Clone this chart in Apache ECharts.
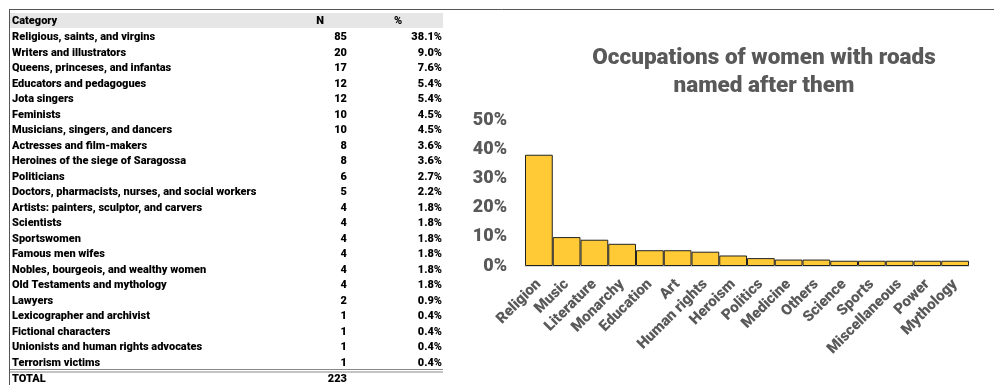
<!DOCTYPE html>
<html><head><meta charset="utf-8">
<script src="https://cdn.jsdelivr.net/npm/echarts@6/dist/echarts.min.js"></script>
<style>html,body{margin:0;padding:0;background:#fff}#c{width:994px;height:385px}</style>
</head><body><div id="c"></div>
<script>
var tableCategories = ["Religious, saints, and virgins","Writers and illustrators","Queens, princeses, and infantas","Educators and pedagogues","Jota singers","Feminists","Musicians, singers, and dancers","Actresses and film-makers","Heroines of the siege of Saragossa","Politicians","Doctors, pharmacists, nurses, and social workers","Artists: painters, sculptor, and carvers","Scientists","Sportswomen","Famous men wifes","Nobles, bourgeois, and wealthy women","Old Testaments and mythology","Lawyers","Lexicographer and archivist","Fictional characters","Unionists and human rights advocates","Terrorism victims"];
var tableN = [85,20,17,12,12,10,10,8,8,6,5,4,4,4,4,4,4,2,1,1,1,1];
var tablePct = ["38.1%","9.0%","7.6%","5.4%","5.4%","4.5%","4.5%","3.6%","3.6%","2.7%","2.2%","1.8%","1.8%","1.8%","1.8%","1.8%","1.8%","0.9%","0.4%","0.4%","0.4%","0.4%"];
var tableTotal = 223;

var chartCategories = ["Religion","Music","Literature","Monarchy","Education","Art","Human rights","Heroism","Politics","Medicine","Others","Science","Sports","Miscellaneous","Power","Mythology"];
var chartValues = [38.1,9.9,9.0,7.6,5.4,5.4,4.9,3.6,2.7,2.2,2.2,1.8,1.8,1.8,1.8,1.8];
var yTicks = [0,10,20,30,40,50];

var FONT = 'Roboto';
var graphics = [];
graphics.push({type:'line',shape:{x1:9,y1:9.5,x2:994,y2:9.5},style:{stroke:'#555',lineWidth:1}});
graphics.push({type:'line',shape:{x1:9.5,y1:9,x2:9.5,y2:385},style:{stroke:'#555',lineWidth:1}});
graphics.push({type:'rect',shape:{x:10,y:13,width:433,height:15},style:{fill:'#e6e6e6'}});
var hStyle = {fill:'#000',fontFamily:FONT,fontWeight:900,fontSize:11,verticalAlign:'middle'};
function txt(t,x,y,align){
  graphics.push({type:'text',x:x,y:y,style:Object.assign({},hStyle,{text:t,align:align})});
}
txt('Category',12,21,'left');
txt('N',320,21,'center');
txt('%',398,21,'center');
for (var i=0;i<tableCategories.length;i++){
  var y = 37.5 + i*15.5;
  txt(tableCategories[i],12,y,'left');
  txt(String(tableN[i]),347,y,'right');
  txt(tablePct[i],442,y,'right');
}
graphics.push({type:'line',shape:{x1:10,y1:369.5,x2:443,y2:369.5},style:{stroke:'#888',lineWidth:1}});
graphics.push({type:'line',shape:{x1:10,y1:372,x2:443,y2:372},style:{stroke:'#888',lineWidth:1}});
txt('TOTAL',12,379,'left');
txt(String(tableTotal),347,379,'right');

var chart = echarts.init(document.getElementById('c'), null, {renderer:'canvas'});
chart.setOption({
  animation:false,
  title:{text:'Occupations of women with roads\nnamed after them',left:759,top:39,textAlign:'center',
    textStyle:{fontFamily:FONT,fontWeight:900,fontSize:22.5,color:'#595959',lineHeight:28}},
  grid:{left:525,right:25,top:120,bottom:119,containLabel:false},
  xAxis:{type:'category',data:chartCategories,
    axisLine:{show:true,lineStyle:{color:'#d9d9d9',width:1}},axisTick:{show:false},
    axisLabel:{rotate:45,interval:0,margin:16,fontFamily:FONT,fontWeight:900,fontSize:15,color:'#595959'}},
  yAxis:{type:'value',min:0,max:50,interval:10,splitLine:{show:false},axisLine:{show:false},axisTick:{show:false},
    axisLabel:{formatter:function(v){return v+'%';},margin:18,fontFamily:FONT,fontWeight:900,fontSize:18,color:'#595959'}},
  series:[{type:'bar',data:chartValues,barCategoryGap:0,
    itemStyle:{color:'#ffca35',borderColor:'#222',borderWidth:1}}],
  graphic:graphics
});
</script></body></html>
